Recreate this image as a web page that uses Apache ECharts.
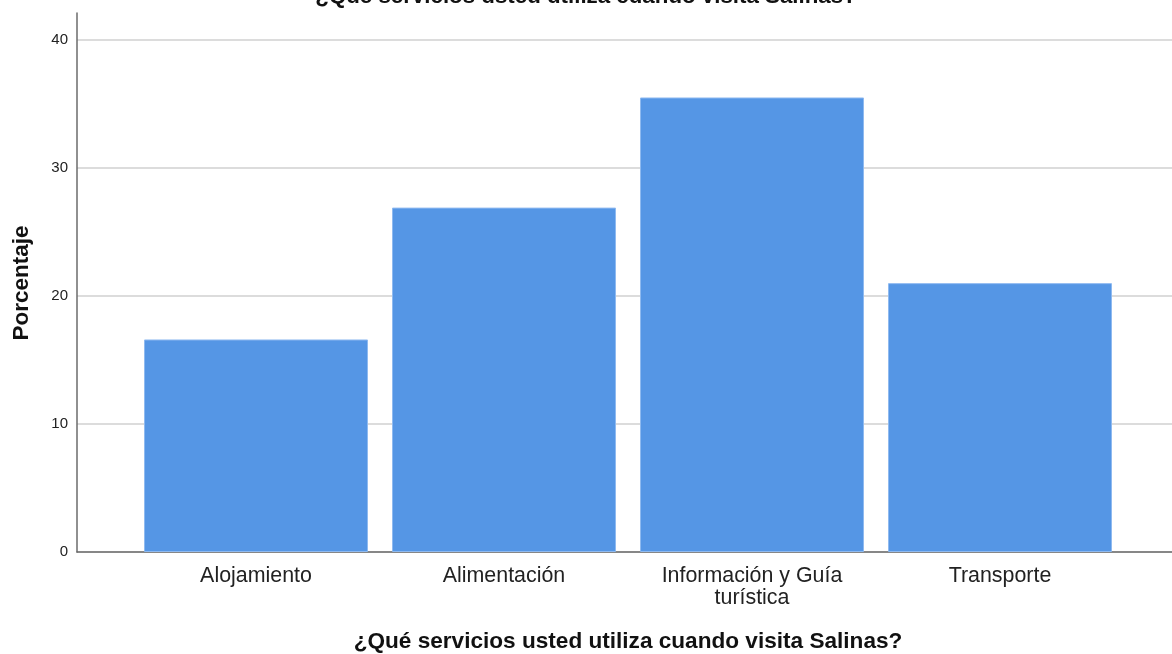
<!DOCTYPE html>
<html>
<head>
<meta charset="utf-8">
<script src="https://cdn.jsdelivr.net/npm/echarts@6/dist/echarts.min.js"></script>
<style>
  html, body { margin: 0; padding: 0; background: #ffffff; }
  #chart { width: 1172px; height: 654px; }
</style>
</head>
<body>
<div id="chart"></div>
<script>
// Survey: services used when visiting Salinas (percent of respondents)
const categories = ['Alojamiento', 'Alimentación', 'Información y Guía\nturística', 'Transporte'];
const percentages = [16.6, 26.9, 35.5, 21.0];
const yTicks = [0, 10, 20, 30, 40];

const chartTitle = '¿Qué servicios usted utiliza cuando visita Salinas?';
const xTitle = '¿Qué servicios usted utiliza cuando visita Salinas?';
const yTitle = 'Porcentaje';

const yMax = 42.1;
const FONT = '"Liberation Sans", Arial, sans-serif';

const chart = echarts.init(document.getElementById('chart'), null, { renderer: 'canvas' });

chart.setOption({
  backgroundColor: '#ffffff',
  animation: false,
  title: [
    {
      // chart title, partly above the top edge
      text: chartTitle,
      left: 586, top: -15, padding: 0,
      textAlign: 'center',
      textStyle: { fontFamily: FONT, fontSize: 22.3, lineHeight: 24, fontWeight: 'bold', color: '#111' }
    },
    {
      text: xTitle,
      left: 628, top: 630, padding: 0,
      textAlign: 'center',
      textStyle: { fontFamily: FONT, fontSize: 22.6, lineHeight: 24, fontWeight: 'bold', color: '#111' }
    }
  ],
  graphic: [{
    type: 'text',
    x: 22, y: 283,
    rotation: Math.PI / 2,
    style: {
      text: yTitle,
      fontFamily: FONT, fontSize: 22.5, fontWeight: 'bold', fill: '#111',
      textAlign: 'center', textVerticalAlign: 'middle'
    }
  }],
  grid: [
    // frame: axes and gridlines
    { left: 77, right: 0, top: 13, bottom: 102 },
    // bar area
    { left: 132, right: 48, top: 13, bottom: 102 }
  ],
  xAxis: [
    {
      gridIndex: 0, type: 'value', min: 0, max: 1,
      axisLine: { show: true, onZero: false, lineStyle: { color: '#6b6b6b', width: 1.5 } },
      axisTick: { show: false }, axisLabel: { show: false }, splitLine: { show: false }
    },
    {
      gridIndex: 1, type: 'category', data: categories,
      axisLine: { show: false }, axisTick: { show: false },
      axisLabel: {
        margin: 13, fontFamily: FONT, fontSize: 21.4, color: '#222', lineHeight: 22,
        interval: 0
      }
    }
  ],
  yAxis: [
    {
      gridIndex: 0, type: 'value', min: 0, max: yMax, interval: 10,
      axisLine: { show: true, lineStyle: { color: '#6b6b6b', width: 1.5 } },
      axisTick: { show: false },
      axisLabel: {
        margin: 9, fontFamily: FONT, fontSize: 15, color: '#222',
        padding: [4, 0, 0, 0],
        formatter: v => (yTicks.indexOf(v) >= 0 ? String(v) : '')
      },
      splitLine: { show: true, showMaxLine: false, lineStyle: { color: '#d0d0d0', width: 1.5 } }
    },
    {
      gridIndex: 1, type: 'value', min: 0, max: yMax, show: false,
      splitLine: { show: false }
    }
  ],
  series: [{
    type: 'bar',
    xAxisIndex: 1, yAxisIndex: 1,
    data: percentages,
    barWidth: 224,
    itemStyle: { color: '#5596e5', borderColor: '#8fbaf0', borderWidth: 1 }
  }]
});
</script>
</body>
</html>
